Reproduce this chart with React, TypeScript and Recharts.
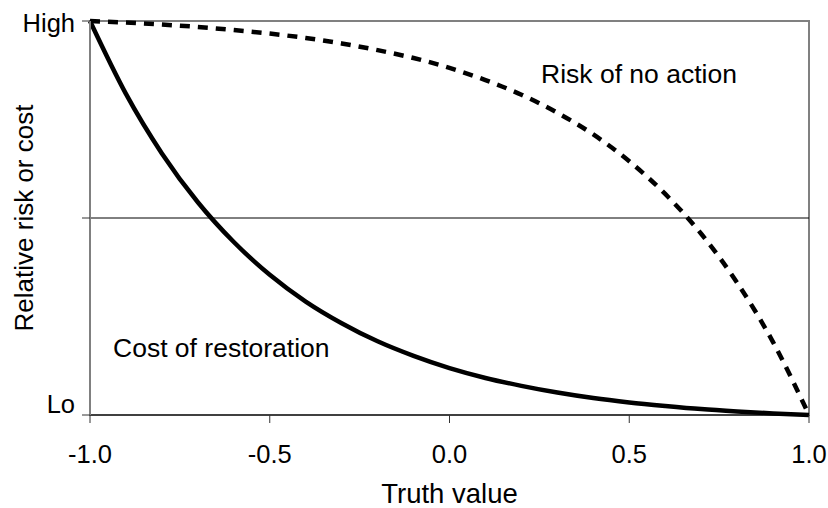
import {
  LineChart,
  Line,
  XAxis,
  YAxis,
  ReferenceLine,
  ReferenceArea,
  Label,
  Customized,
} from "recharts";

const truth = [
  -1.0, -0.9, -0.8, -0.7, -0.6, -0.5, -0.4, -0.3, -0.2, -0.1, 0.0, 0.1, 0.2,
  0.3, 0.4, 0.5, 0.6, 0.7, 0.8, 0.9, 1.0,
];
const costOfRestoration = [
  1.0, 0.815, 0.664, 0.54, 0.439, 0.356, 0.288, 0.233, 0.187, 0.15, 0.119,
  0.094, 0.074, 0.057, 0.043, 0.032, 0.023, 0.015, 0.009, 0.004, 0.0,
];
const riskOfNoAction = [
  1.0, 0.996, 0.991, 0.985, 0.977, 0.968, 0.957, 0.943, 0.926, 0.906, 0.881,
  0.85, 0.813, 0.767, 0.712, 0.644, 0.561, 0.46, 0.336, 0.185, 0.0,
];
const xTicks = [-1.0, -0.5, 0.0, 0.5, 1.0];
const yTicks = [0, 0.5, 1];
const yTickLabels: Record<number, string> = { 0: "Lo", 0.5: "", 1: "High" };

const data = truth.map((t, i) => ({
  t,
  cost: costOfRestoration[i],
  risk: riskOfNoAction[i],
}));

const FONT = "Arial, 'Liberation Sans', sans-serif";

const YTick = ({ x, y, payload }: any) => {
  const label = yTickLabels[payload.value] ?? "";
  const dy = payload.value === 1 ? 11 : -2;
  return (
    <text
      x={x}
      y={y + dy}
      textAnchor="end"
      fontSize={25.5}
      fontFamily={FONT}
      fill="#000"
    >
      {label}
    </text>
  );
};

const CurveLabels = () => (
  <g fontFamily={FONT} fontSize={26.5} fill="#000">
    <text x={541} y={83}>
      Risk of no action
    </text>
    <text x={113} y={357}>
      Cost of restoration
    </text>
  </g>
);

const App = () => {
  return (
    <div style={{ position: "absolute", left: 0, top: 0, background: "#fff" }}>
      <LineChart
        width={828}
        height={508}
        data={data}
        margin={{ top: 21, right: 19, left: 0, bottom: 0 }}
      >
        <ReferenceArea
          x1={-1}
          x2={1}
          y1={0}
          y2={1}
          fill="none"
          stroke="#808080"
          strokeWidth={2}
          ifOverflow="visible"
        />
        <ReferenceLine y={0.5} stroke="#000" strokeWidth={1} />
        <XAxis
          dataKey="t"
          type="number"
          domain={[-1, 1]}
          ticks={xTicks}
          tickFormatter={(v: number) => v.toFixed(1)}
          height={93}
          tickSize={8}
          tickMargin={22}
          axisLine={{ stroke: "#000", strokeWidth: 1 }}
          tickLine={{ stroke: "#333" }}
          tick={{ fontSize: 25.5, fill: "#000", fontFamily: FONT }}
        >
          <Label
            value="Truth value"
            position="insideBottom"
            offset={5}
            style={{ fontSize: 27.5, fill: "#000", fontFamily: FONT }}
          />
        </XAxis>
        <YAxis
          type="number"
          domain={[0, 1]}
          ticks={yTicks}
          width={90}
          tickSize={8}
          tickMargin={7}
          axisLine={{ stroke: "#808080", strokeWidth: 2 }}
          tickLine={{ stroke: "#333" }}
          tick={<YTick />}
        >
          <Label
            value="Relative risk or cost"
            angle={-90}
            position="insideLeft"
            offset={24}
            style={{
              fontSize: 26,
              fill: "#000",
              fontFamily: FONT,
              textAnchor: "middle",
            }}
          />
        </YAxis>
        <Line
          dataKey="risk"
          type="monotone"
          stroke="#000"
          strokeWidth={4.5}
          strokeDasharray="10 8"
          dot={false}
          isAnimationActive={false}
        />
        <Line
          dataKey="cost"
          type="monotone"
          stroke="#000"
          strokeWidth={4.5}
          dot={false}
          isAnimationActive={false}
        />
        <Customized component={CurveLabels} />
      </LineChart>
    </div>
  );
};

export default App;
